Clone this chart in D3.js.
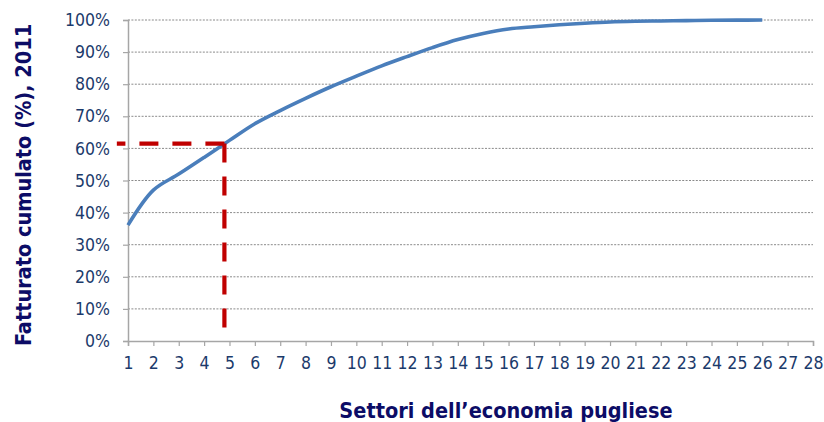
<!DOCTYPE html>
<html>
<head>
<meta charset="utf-8">
<script src="https://cdn.jsdelivr.net/npm/d3@7"></script>
<style>
  html, body { margin: 0; padding: 0; background: #ffffff; }
  svg { display: block; }
</style>
</head>
<body>
<svg id="chart" width="824" height="422"></svg>
<script>
// Cumulative turnover share by number of sectors (Puglia, 2011)
const sectors = d3.range(1, 27);
const cumulative = [
  36.1, 47.0, 52.0, 57.2, 62.5, 67.7, 71.8, 75.6, 79.2, 82.5,
  85.7, 88.6, 91.4, 93.9, 95.8, 97.2, 97.9, 98.5, 99.0, 99.4,
  99.6, 99.7, 99.8, 99.9, 99.95, 100
];
const xTicks = d3.range(1, 29);
const yTicks = d3.range(0, 101, 10);

// Reference marker: ~4.8 sectors account for ~61.5% of turnover
const markerX = 4.8;
const markerY = 61.5;
const markerLeftX = 0.56;
const markerBottomY = 4;

const xTitle = "Settori dell\u2019economia pugliese";
const yTitle = "Fatturato cumulato (%), 2011";

const svg = d3.select("#chart");
const margin = { left: 128, right: 11, top: 20, bottom: 81 };
const W = 824, H = 422;

const x = d3.scaleLinear().domain([1, 28]).range([margin.left, W - margin.right]);
const y = d3.scaleLinear().domain([0, 100]).range([H - margin.bottom, margin.top]);

const tickFont = "'DejaVu Sans Condensed', 'DejaVu Sans', sans-serif";
const tickColor = "#1b3a6b";
const titleColor = "#0c0c66";
const axisGray = "#a6a6a6";

// Horizontal dotted gridlines
svg.append("g")
  .selectAll("line")
  .data(yTicks.filter(d => d > 0))
  .join("line")
  .attr("x1", x(1)).attr("x2", x(28))
  .attr("y1", d => y(d)).attr("y2", d => y(d))
  .attr("stroke", "#8a8a8a")
  .attr("stroke-width", 1)
  .attr("stroke-dasharray", "2,1.4");

// Y axis
const yAxis = svg.append("g")
  .attr("transform", `translate(${x(1)},0)`)
  .call(d3.axisLeft(y).tickValues(yTicks).tickFormat(d => d + "%").tickSize(5).tickPadding(13));
yAxis.select(".domain").attr("stroke", axisGray).attr("stroke-width", 1.5);
yAxis.selectAll(".tick line").attr("stroke", axisGray).attr("stroke-width", 1.2);
yAxis.selectAll(".tick text")
  .attr("fill", tickColor)
  .style("font-family", tickFont)
  .style("font-size", "17.5px");

// X axis
const xAxis = svg.append("g")
  .attr("transform", `translate(0,${y(0)})`)
  .call(d3.axisBottom(x).tickValues(xTicks).tickFormat(d3.format("d")).tickSize(5).tickPadding(11));
xAxis.select(".domain").attr("stroke", axisGray).attr("stroke-width", 1.5);
xAxis.selectAll(".tick line").attr("stroke", axisGray).attr("stroke-width", 1.2);
xAxis.selectAll(".tick text")
  .attr("fill", tickColor)
  .style("font-family", tickFont)
  .style("font-size", "17.5px");

// Cumulative curve
const line = d3.line()
  .x((d, i) => x(sectors[i]))
  .y(d => y(d))
  .curve(d3.curveCatmullRom.alpha(0.5));

svg.append("path")
  .datum(cumulative)
  .attr("fill", "none")
  .attr("stroke", "#4a7ebb")
  .attr("stroke-width", 3.6)
  .attr("stroke-linecap", "butt")
  .attr("d", line);

// Red dashed reference lines, drawn outward from the corner
const dash = "19,14";
svg.append("line")
  .attr("x1", x(markerX)).attr("y1", y(markerY))
  .attr("x2", x(markerLeftX)).attr("y2", y(markerY))
  .attr("stroke", "#c00000").attr("stroke-width", 4.2)
  .attr("stroke-dasharray", dash);
svg.append("line")
  .attr("x1", x(markerX)).attr("y1", y(markerY))
  .attr("x2", x(markerX)).attr("y2", y(markerBottomY))
  .attr("stroke", "#c00000").attr("stroke-width", 4.2)
  .attr("stroke-dasharray", dash);

// Axis titles
svg.append("text")
  .attr("x", 506).attr("y", 418)
  .attr("text-anchor", "middle")
  .attr("fill", titleColor)
  .style("font-family", tickFont)
  .style("font-weight", "bold")
  .style("font-size", "21.5px")
  .text(xTitle);

svg.append("text")
  .attr("transform", "translate(31,185) rotate(-90)")
  .attr("text-anchor", "middle")
  .attr("fill", titleColor)
  .style("font-family", tickFont)
  .style("font-weight", "bold")
  .style("font-size", "21.5px")
  .text(yTitle);
</script>
</body>
</html>
